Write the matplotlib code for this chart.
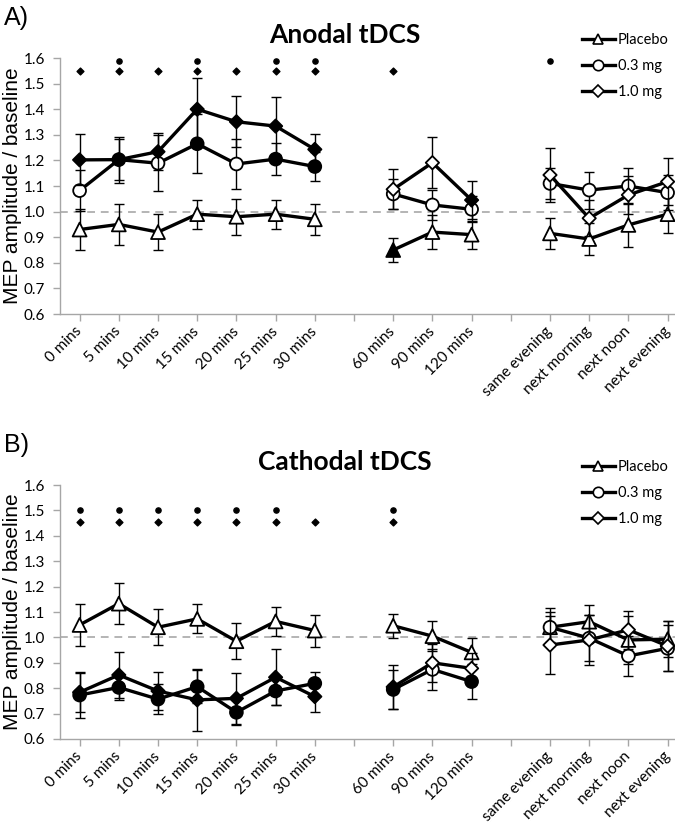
import numpy as np
import matplotlib
matplotlib.use("Agg")
import matplotlib.pyplot as plt
from matplotlib.lines import Line2D

nan = np.nan

# 16 category slots, two empty gap slots (index 7 and 11)
categories = ["0 mins", "5 mins", "10 mins", "15 mins", "20 mins", "25 mins", "30 mins", "",
              "60 mins", "90 mins", "120 mins", "",
              "same evening", "next morning", "next noon", "next evening"]
series_names = ["Placebo", "0.3 mg", "1.0 mg"]

# A) Anodal tDCS
anodal_placebo = [0.93, 0.95, 0.92, 0.99, 0.98, 0.99, 0.97, nan, 0.85, 0.92, 0.91, nan, 0.915, 0.893, 0.948, 0.99]
anodal_placebo_err = [0.08, 0.08, 0.07, 0.057, 0.07, 0.057, 0.06, nan, 0.045, 0.065, 0.055, nan, 0.06, 0.063, 0.085, 0.075]
anodal_03 = [1.082, 1.203, 1.189, 1.265, 1.186, 1.205, 1.176, nan, 1.069, 1.026, 1.009, nan, 1.11, 1.084, 1.1, 1.074]
anodal_03_err = [0.08, 0.08, 0.11, 0.115, 0.098, 0.063, 0.057, nan, 0.06, 0.06, 0.05, nan, 0.06, 0.072, 0.072, 0.068]
anodal_10 = [1.202, 1.203, 1.234, 1.4, 1.351, 1.334, 1.243, nan, 1.087, 1.191, 1.045, nan, 1.143, 0.974, 1.065, 1.117]
anodal_10_err = [0.1, 0.09, 0.072, 0.12, 0.1, 0.113, 0.059, nan, 0.078, 0.1, 0.075, nan, 0.105, 0.07, 0.075, 0.093]
anodal_placebo_sig = [8]
anodal_03_sig = [1, 3, 5, 6]
anodal_10_sig = [0, 1, 2, 3, 4, 5, 6, 10]
anodal_dots = [1, 3, 5, 6, 12]
anodal_diamonds = [0, 1, 2, 3, 4, 5, 6, 8]

# B) Cathodal tDCS
cathodal_placebo = [1.049, 1.133, 1.04, 1.073, 0.985, 1.063, 1.027, nan, 1.046, 1.005, 0.941, nan, 1.04, 1.062, 0.99, 0.993]
cathodal_placebo_err = [0.083, 0.08, 0.07, 0.057, 0.072, 0.058, 0.063, nan, 0.047, 0.06, 0.058, nan, 0.06, 0.065, 0.095, 0.07]
cathodal_03 = [0.773, 0.803, 0.757, 0.806, 0.705, 0.789, 0.819, nan, 0.795, 0.874, 0.826, nan, 1.04, 0.997, 0.927, 0.957]
cathodal_03_err = [0.09, 0.05, 0.06, 0.065, 0.05, 0.055, 0.046, nan, 0.075, 0.08, 0.07, nan, 0.075, 0.09, 0.077, 0.09]
cathodal_10 = [0.784, 0.852, 0.789, 0.754, 0.76, 0.843, 0.767, nan, 0.805, 0.9, 0.878, nan, 0.97, 0.99, 1.03, 0.966]
cathodal_10_err = [0.077, 0.09, 0.075, 0.122, 0.1, 0.11, 0.06, nan, 0.085, 0.075, 0.06, nan, 0.115, 0.1, 0.075, 0.1]
cathodal_placebo_sig = []
cathodal_03_sig = [0, 1, 2, 3, 4, 5, 6, 8, 10]
cathodal_10_sig = [0, 1, 2, 3, 4, 5, 6, 8]
cathodal_dots = [0, 1, 2, 3, 4, 5, 8]
cathodal_diamonds = [0, 1, 2, 3, 4, 5, 6, 8]

W, H = 675, 831
CAT_W = 39.2  # pixels per category slot
GRAY = "#a6a6a6"
TICK_FONT = "Lato"
markers = ["^", "o", "D"]
marker_sizes = [100, 85, 46]


def px_axes(fig, left, top, right, bottom):
    return fig.add_axes([left / W, 1 - bottom / H, (right - left) / W, (bottom - top) / H])


def draw_series(ax, x, y, err, sig, marker, size, z):
    y = np.array(y, dtype=float)
    ax.errorbar(x, y, yerr=err, fmt="none", ecolor="k", elinewidth=1.0,
                capsize=3.5, capthick=1.0, zorder=z)
    ax.plot(x, y, color="k", lw=2.4, zorder=z + 1)
    faces = ["k" if i in sig else "white" for i in range(len(y))]
    ok = ~np.isnan(y)
    ax.scatter(x[ok], y[ok], s=size, marker=marker, facecolors=np.array(faces)[ok],
               edgecolors="k", linewidths=1.3, zorder=z + 2)


def draw_panel(fig, top, bottom, letter, title, data, dots, diamonds, dot_y, diamond_y):
    ax = px_axes(fig, 60, top, W, bottom)
    x = np.arange(len(categories))
    ax.set_xlim(-0.5, -0.5 + (W - 60) / CAT_W)
    ax.set_ylim(0.6, 1.6)
    ax.axhline(1.0, color="#b4b4b4", lw=1.4, ls=(0, (4, 3)), zorder=1)

    for k, (y, err, sig) in enumerate(data):
        draw_series(ax, x, y, err, sig, markers[k], marker_sizes[k], 3 + 3 * k)

    ax.scatter(dots, [dot_y] * len(dots), s=14, marker="o", color="k", zorder=20)
    ax.scatter(diamonds, [diamond_y] * len(diamonds), s=12, marker="D", color="k", zorder=20)

    for s in ["top", "right"]:
        ax.spines[s].set_visible(False)
    for s in ["left", "bottom"]:
        ax.spines[s].set_color(GRAY)
        ax.spines[s].set_linewidth(1.0)
    ax.set_yticks(np.arange(0.6, 1.61, 0.1))
    ax.set_yticklabels(["%.1f" % v for v in np.arange(0.6, 1.61, 0.1)],
                       fontsize=11, family=TICK_FONT)
    ax.set_xticks(x)
    ax.set_xticklabels(categories, rotation=45, ha="right", va="center",
                       rotation_mode="anchor", fontsize=11, family=TICK_FONT)
    ax.tick_params(axis="both", color=GRAY, length=5, width=1.0)
    ax.tick_params(axis="y", pad=6)
    ax.tick_params(axis="x", pad=6)

    fig.text(4 / W, 1 - (top - 40) / H, letter, fontsize=18, family="Liberation Sans",
             ha="left", va="center")
    fig.text(345 / W, 1 - (top - 23) / H, title, fontsize=19, family=TICK_FONT,
             weight="bold", ha="center", va="center")
    fig.text(13 / W, 1 - (top + bottom) / 2 / H, "MEP amplitude / baseline",
             fontsize=15, family="Liberation Sans", rotation=90, ha="center", va="center")

    handles = [Line2D([], [], color="k", lw=2.4, marker=m, markersize=ms, mfc="white",
                      mec="k", mew=1.2) for m, ms in zip(markers, [7.5, 7.5, 6])]
    ax.legend(handles, series_names, loc="upper left", frameon=False,
              bbox_to_anchor=(582 / W, 1 - (top - 25) / H), bbox_transform=fig.transFigure,
              prop={"family": TICK_FONT, "size": 10.5}, handlelength=2.25, handletextpad=0.2,
              labelspacing=0.82, borderpad=0, borderaxespad=0)
    return ax


def main():
    fig = plt.figure(figsize=(W / 100, H / 100), dpi=100)

    draw_panel(fig, 58, 314, "A)", "Anodal tDCS",
               [(anodal_placebo, anodal_placebo_err, anodal_placebo_sig),
                (anodal_03, anodal_03_err, anodal_03_sig),
                (anodal_10, anodal_10_err, anodal_10_sig)],
               anodal_dots, anodal_diamonds, 1.59, 1.55)

    draw_panel(fig, 485, 739, "B)", "Cathodal tDCS",
               [(cathodal_placebo, cathodal_placebo_err, cathodal_placebo_sig),
                (cathodal_03, cathodal_03_err, cathodal_03_sig),
                (cathodal_10, cathodal_10_err, cathodal_10_sig)],
               cathodal_dots, cathodal_diamonds, 1.5, 1.455)

    fig.savefig("out.png", dpi=100)


if __name__ == "__main__":
    main()
